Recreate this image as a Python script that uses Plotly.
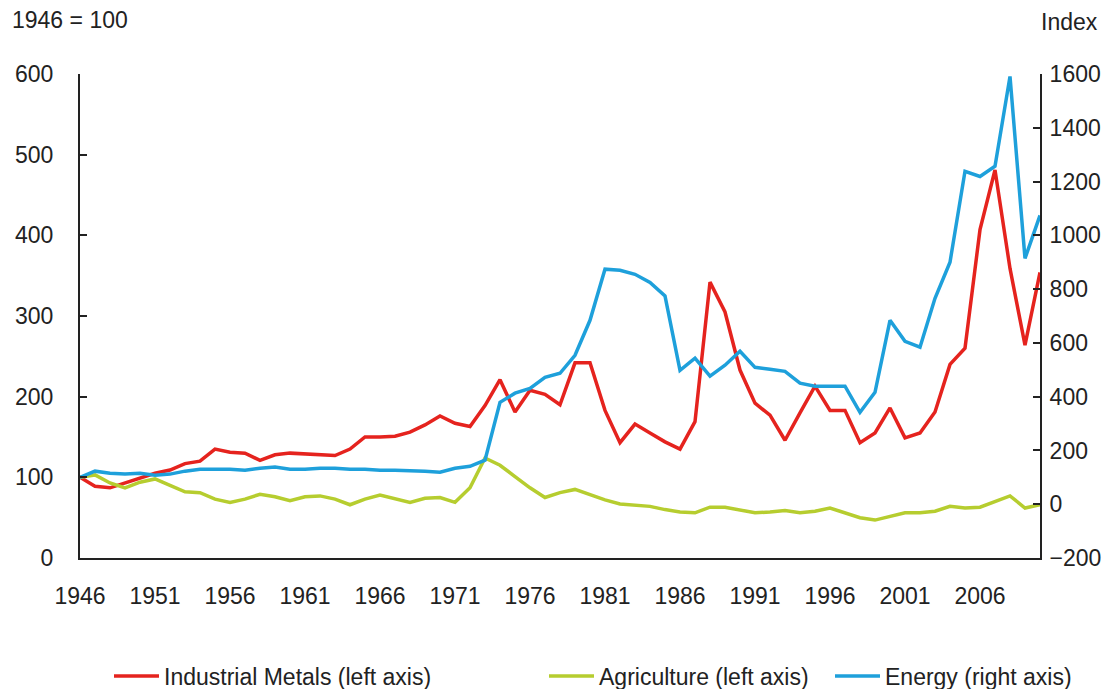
import plotly.graph_objects as go

years = list(range(1946, 2011))

industrial_metals = [100, 89, 87, 93, 100, 105, 109, 117, 120, 135, 131,
                     130, 121, 128, 130, 129, 127, 127, 135, 150, 150,
                     151, 156, 165, 176, 167, 163, 189, 221, 181, 208,
                     203, 190, 242, 242, 183, 143, 166, 155, 144, 135,
                     169, 342, 305, 233, 192, 177, 146, 180, 213, 183,
                     183, 143, 155, 186, 149, 155, 181, 240, 260, 407,
                     481, 359, 264, 354]

agriculture = [100, 103, 93, 87, 94, 98, 90, 82, 81, 73, 69,
               73, 79, 76, 71, 76, 77, 73, 66, 73, 78,
               74, 69, 74, 75, 69, 87, 124, 115, 101, 87,
               75, 81, 85, 78, 72, 67, 66, 64, 60, 57,
               56, 63, 63, 60, 56, 57, 59, 56, 58, 62,
               56, 50, 47, 52, 56, 56, 58, 64, 62, 63,
               70, 77, 62, 66]

energy = [100, 123, 115, 112, 115, 108, 112, 123, 130, 130, 130,
          126, 134, 138, 130, 130, 134, 134, 130, 130, 126,
          126, 126, 123, 119, 134, 141, 164, 379, 413, 431,
          472, 487, 554, 684, 874, 870, 855, 825, 775, 498,
          543, 476, 517, 569, 509, 502, 494, 450, 439, 439,
          439, 342, 416, 684, 606, 584, 766, 900, 1238, 1219,
          1257, 1591, 914, 1074]

x_ticks = list(range(1946, 2007, 5))
left_ticks = list(range(0, 601, 100))
right_ticks = list(range(-200, 1601, 200))

RED = "#E5231E"
GREEN = "#B6CD2F"
BLUE = "#1EA0DB"
FONT = "Liberation Sans, Arial, sans-serif"
FS = 23
W, H = 1120, 689

fig = go.Figure()
fig.add_trace(go.Scatter(x=years, y=industrial_metals, mode="lines",
                         name="Industrial Metals (left axis)", showlegend=True,
                         line=dict(color=RED, width=3.5), legend="legend"))
fig.add_trace(go.Scatter(x=years, y=agriculture, mode="lines",
                         name="Agriculture (left axis)", showlegend=True,
                         line=dict(color=GREEN, width=3.5), legend="legend2"))
fig.add_trace(go.Scatter(x=years, y=energy, mode="lines",
                         name="Energy (right axis)", yaxis="y2", showlegend=True,
                         line=dict(color=BLUE, width=3.5), legend="legend3"))

legend_common = dict(orientation="h", xref="container", yref="container",
                     yanchor="middle", y=1 - 676 / H, xanchor="left",
                     itemwidth=45,
                     font=dict(size=FS, color="#222", family=FONT),
                     bgcolor="rgba(0,0,0,0)", borderwidth=0)

fig.update_layout(
    width=W, height=H, showlegend=True,
    margin=dict(l=80, r=80, t=74, b=131, autoexpand=False),
    paper_bgcolor="white", plot_bgcolor="white",
    font=dict(family=FONT, size=FS, color="#222"),
    xaxis=dict(range=[1946, 2010], tickvals=x_ticks, ticktext=[str(v) for v in x_ticks],
               showline=True, linecolor="#222", linewidth=2, showgrid=False,
               zeroline=False, ticks="", ticklabelstandoff=16, automargin=False),
    yaxis=dict(range=[0, 600], tickvals=left_ticks, showline=True, linecolor="#222",
               linewidth=2, showgrid=False, zeroline=False, ticks="inside",
               ticklen=7, tickwidth=2, tickcolor="#222", ticklabelstandoff=20,
               automargin=False),
    yaxis2=dict(range=[-200, 1600], tickvals=right_ticks, overlaying="y", side="right",
                showline=True, linecolor="#222", linewidth=2, showgrid=False,
                zeroline=False, ticks="inside", ticklen=7, tickwidth=2,
                tickcolor="#222", ticklabelstandoff=3, automargin=False),
    legend=dict(x=109 / W, **legend_common),
    legend2=dict(x=544 / W, **legend_common),
    legend3=dict(x=830 / W, **legend_common),
    annotations=[
        dict(text="1946 = 100", xref="paper", yref="paper", x=-70 / 960, y=1 + 54 / 484,
             xanchor="left", yanchor="middle", showarrow=False,
             font=dict(size=FS, color="#222", family=FONT)),
        dict(text="Index", xref="paper", yref="paper", x=1 + 60 / 960, y=1 + 52 / 484,
             xanchor="right", yanchor="middle", showarrow=False,
             font=dict(size=FS, color="#222", family=FONT)),
    ],
)

fig.write_html("out.html", config={"displayModeBar": False},
               post_script="document.body.style.margin='0';document.body.style.padding='0';")
